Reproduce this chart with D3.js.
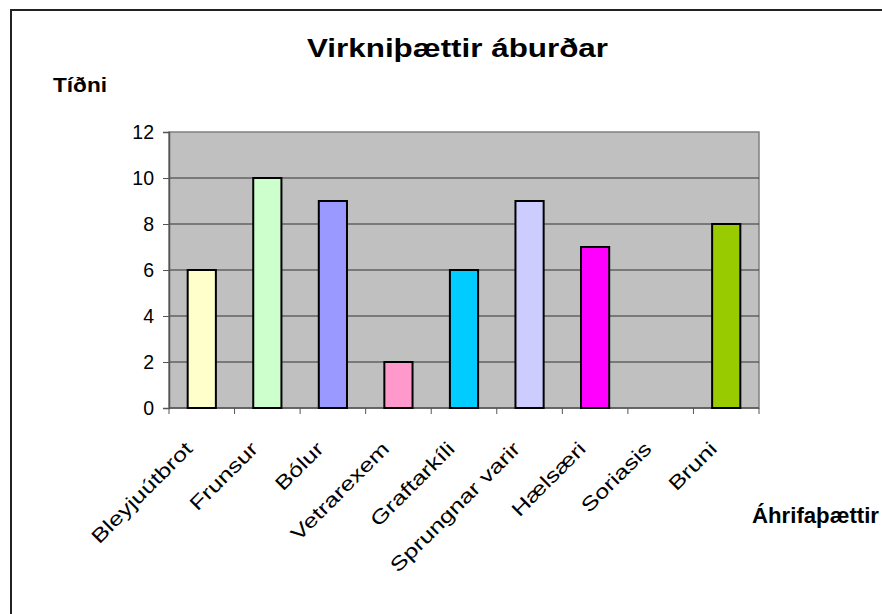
<!DOCTYPE html>
<html>
<head>
<meta charset="utf-8">
<script src="https://cdn.jsdelivr.net/npm/d3@7"></script>
<style>
    body { margin: 0; background: #fff; }
    svg { display: block; font-family: 'Liberation Sans', Arial, sans-serif; }
</style>
</head>
<body>
<div id="chart"></div>
<script>
const categories = ['Bleyjuútbrot', 'Frunsur', 'Bólur', 'Vetrarexem', 'Graftarkíli', 'Sprungnar varir', 'Hælsæri', 'Soriasis', 'Bruni']
const values = [6, 10, 9, 2, 6, 9, 7, 0, 8]
const barColors = ['#FFFFCC', '#CCFFCC', '#9999FF', '#FF99CC', '#00CCFF', '#CCCCFF', '#FF00FF', '#FFFF00', '#99CC00']
const yTicks = [0, 2, 4, 6, 8, 10, 12]

const width = 882
const height = 614
const plot = { left: 169, right: 759, top: 132, bottom: 408 }

const svg = d3.select('#chart').append('svg')
    .attr('width', width)
    .attr('height', height)

svg.append('rect')
    .attr('width', width)
    .attr('height', height)
    .attr('fill', '#fff')

// chart frame: only left and top edges fall inside the picture
svg.append('path')
    .attr('d', `M11,${height + 5}V10H${width + 5}`)
    .attr('fill', 'none')
    .attr('stroke', '#222')
    .attr('stroke-width', 2)

const x = d3.scaleBand()
    .domain(categories)
    .range([plot.left, plot.right])
    .padding(0)

const y = d3.scaleLinear()
    .domain([0, 12])
    .range([plot.bottom, plot.top])

const barWidth = x.bandwidth() * 0.43

svg.append('rect')
    .attr('x', plot.left)
    .attr('y', plot.top)
    .attr('width', plot.right - plot.left)
    .attr('height', plot.bottom - plot.top)
    .attr('fill', '#C0C0C0')
    .attr('stroke', '#808080')
    .attr('stroke-width', 1.5)

svg.append('g')
    .selectAll('line')
    .data(yTicks.filter(t => t > 0 && t < 12))
    .enter()
    .append('line')
    .attr('x1', plot.left)
    .attr('x2', plot.right)
    .attr('y1', d => y(d))
    .attr('y2', d => y(d))
    .attr('stroke', '#333')
    .attr('stroke-width', 1)

// y axis
const yAxis = svg.append('g')
    .attr('transform', `translate(${plot.left},0)`)
    .call(d3.axisLeft(y).tickValues(yTicks).tickSize(6).tickPadding(9))
yAxis.select('.domain').attr('stroke', '#555').attr('stroke-width', 1.5)
yAxis.selectAll('.tick line').attr('stroke', '#555')
yAxis.selectAll('.tick text')
    .attr('font-size', 19.5)
    .attr('font-family', null)
    .attr('fill', '#000')

// x axis: ticks sit on the category boundaries
const xAxis = svg.append('g')
    .attr('transform', `translate(0,${plot.bottom})`)
xAxis.append('line')
    .attr('x1', plot.left)
    .attr('x2', plot.right)
    .attr('stroke', '#555')
    .attr('stroke-width', 1.5)
xAxis.selectAll('.tick')
    .data(categories.concat(['end']))
    .enter()
    .append('line')
    .attr('class', 'tick')
    .attr('x1', (d, i) => i < categories.length ? x(d) : plot.right)
    .attr('x2', (d, i) => i < categories.length ? x(d) : plot.right)
    .attr('y2', 6)
    .attr('stroke', '#555')

// rotated labels, stretched along the text like the original
svg.append('g')
    .selectAll('text')
    .data(categories)
    .enter()
    .append('text')
    .attr('transform', d => `translate(${x(d) + x.bandwidth() / 2 - 8},450) rotate(-45) scale(1.3,1)`)
    .attr('text-anchor', 'end')
    .attr('font-size', 19.5)
    .text(d => d)

const bars = categories.map((c, i) => ({ category: c, value: values[i], color: barColors[i] }))

svg.append('g')
    .selectAll('rect')
    .data(bars.filter(d => d.value > 0))
    .enter()
    .append('rect')
    .attr('x', d => x(d.category) + (x.bandwidth() - barWidth) / 2)
    .attr('y', d => y(d.value))
    .attr('width', barWidth)
    .attr('height', d => y(0) - y(d.value))
    .attr('fill', d => d.color)
    .attr('stroke', '#000')
    .attr('stroke-width', 2)

svg.append('text')
    .attr('x', 457.5)
    .attr('y', 57)
    .attr('text-anchor', 'middle')
    .attr('font-size', 25)
    .attr('font-weight', 'bold')
    .attr('textLength', 301)
    .attr('lengthAdjust', 'spacingAndGlyphs')
    .text('Virkniþættir áburðar')

svg.append('text')
    .attr('x', 53)
    .attr('y', 92)
    .attr('font-size', 21)
    .attr('font-weight', 'bold')
    .attr('textLength', 54)
    .attr('lengthAdjust', 'spacingAndGlyphs')
    .text('Tíðni')

svg.append('text')
    .attr('x', 752)
    .attr('y', 523)
    .attr('font-size', 22)
    .attr('font-weight', 'bold')
    .attr('textLength', 127)
    .attr('lengthAdjust', 'spacingAndGlyphs')
    .text('Áhrifaþættir')
</script>
</body>
</html>
